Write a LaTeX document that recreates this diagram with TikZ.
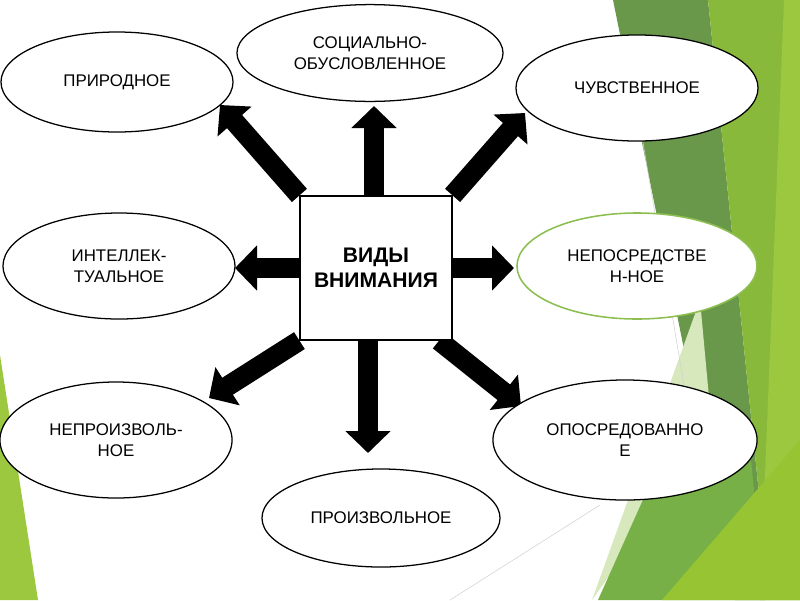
\documentclass[tikz,border=0pt]{standalone}
\usepackage{fontspec}
\setmainfont{Liberation Sans}
\usetikzlibrary{shapes.geometric, arrows.meta}
\definecolor{facetdark}{RGB}{106,152,75}
\definecolor{facetbright}{RGB}{137,185,58}
\definecolor{facetlime}{RGB}{156,200,64}
\definecolor{facetpale}{RGB}{214,232,188}
\definecolor{facetmid}{RGB}{118,176,70}
\definecolor{facetyellow}{RGB}{150,196,50}
\definecolor{leafgreen}{RGB}{140,190,80}
\pgfdeclarelayer{back}
\pgfsetlayers{back,main}

\begin{document}
\begin{tikzpicture}[
    x=0.025cm, y=-0.025cm,
    kind/.style={ellipse, draw, line width=0.9pt, fill=white, inner sep=0pt, align=center, font=\fontsize{12}{15}\selectfont},
    hub/.style={rectangle, draw, line width=0.8pt, fill=white, minimum width=3.8cm, minimum height=3.6cm, align=center, font=\fontsize{15}{18}\selectfont\bfseries},
    bigarrow/.style={line width=0.5cm, -{Triangle[width=1.1cm, length=0.55cm]}},
]
\useasboundingbox (0,0) rectangle (800,600);

\node[hub] (types) at (376,268) {ВИДЫ\\ВНИМАНИЯ};

\node[kind, minimum width=5.8cm, minimum height=2.5cm] (natural) at (117,82) {ПРИРОДНОЕ};
\node[kind, minimum width=6.65cm, minimum height=2.42cm] (social) at (370,53) {СОЦИАЛЬНО-\\ОБУСЛОВЛЕННОЕ};
\node[kind, minimum width=6.05cm, minimum height=2.65cm] (sensory) at (637,88) {ЧУВСТВЕННОЕ};
\node[kind, minimum width=5.8cm, minimum height=2.65cm] (intellect) at (119,266) {ИНТЕЛЛЕК-\\ТУАЛЬНОЕ};
\node[kind, draw=leafgreen, line width=1.1pt, minimum width=6cm, minimum height=2.65cm] (direct) at (637,266) {НЕПОСРЕДСТВЕ\\Н-НОЕ};
\node[kind, minimum width=5.8cm, minimum height=2.9cm] (involuntary) at (116,440) {НЕПРОИЗВОЛЬ-\\НОЕ};
\node[kind, minimum width=5.95cm, minimum height=2.45cm] (voluntary) at (381,518) {ПРОИЗВОЛЬНОЕ};
\node[kind, minimum width=6.6cm, minimum height=3cm] (mediated) at (625,440) {ОПОСРЕДОВАННО\\Е};

\coordinate (tipNW) at (220,105);
\coordinate (tipN) at (374,106);
\coordinate (tipNE) at (525,113);
\coordinate (tipW) at (235,268);
\coordinate (tipE) at (514,268);
\coordinate (tipSW) at (209,398);
\coordinate (tipS) at (368,453);
\coordinate (tipSE) at (521,406);

\begin{pgfonlayer}{back}
% slide background
\fill[facetdark] (613,0) -- (708,0) -- (770,600) -- (735,600) -- cycle;
\fill[facetbright] (708,0) -- (800,0) -- (800,600) -- (770,600) -- cycle;
\fill[facetlime] (784,0) -- (800,0) -- (800,600) -- (760,600) -- cycle;
\fill[facetpale] (700,300) -- (712,430) -- (592,600) -- cycle;
\fill[facetmid] (598,600) -- (690,395) -- (750,450) -- (765,600) -- cycle;
\fill[facetyellow] (662,600) -- (800,440) -- (800,600) -- cycle;
\fill[facetlime] (0,355) -- (38,600) -- (0,600) -- cycle;
\draw[gray!35, thin] (640,125) -- (684,385);
\draw[gray!35, thin] (450,600) -- (600,505);

\draw[bigarrow] (types.north west) -- (tipNW);
\draw[bigarrow] (tipN |- types.north) -- (tipN);
\draw[bigarrow] (types.north east) -- (tipNE);
\draw[bigarrow] (types.west) -- (tipW);
\draw[bigarrow] (types.east) -- (tipE);
\draw[bigarrow] (types.south west) -- (tipSW);
\draw[bigarrow] (tipS |- types.south) -- (tipS);
\draw[bigarrow] (types.-49) -- (tipSE);
\end{pgfonlayer}

\end{tikzpicture}
\end{document}
